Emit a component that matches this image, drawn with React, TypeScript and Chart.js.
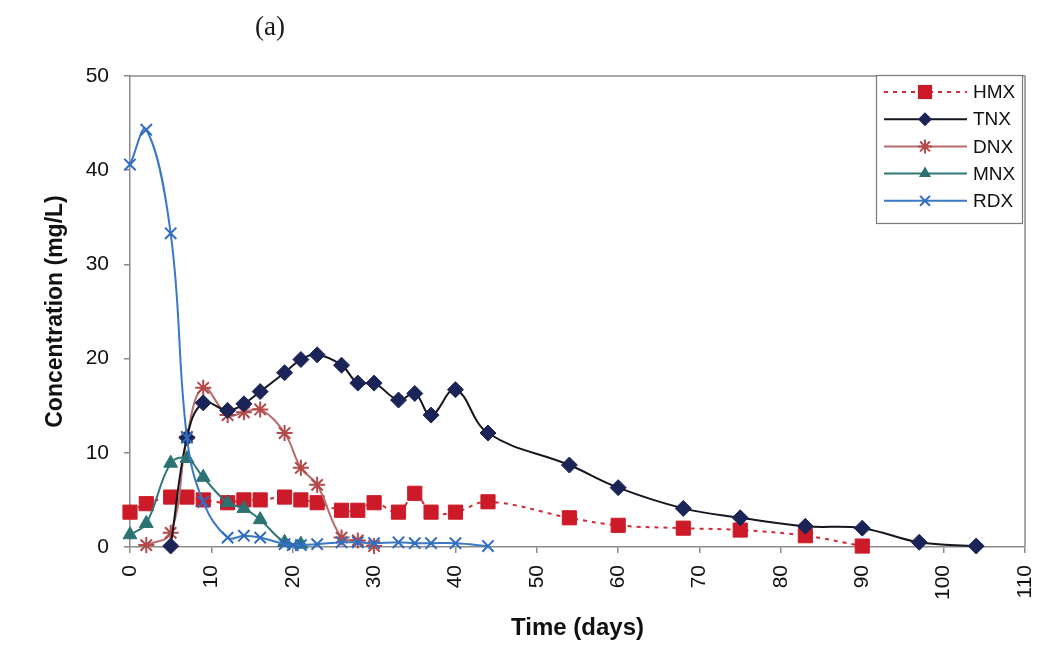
import React, { useEffect, useRef } from 'react';
import { Chart, registerables } from 'chart.js';

Chart.register(...registerables);

const FONT = '"Liberation Sans", Arial, Helvetica, sans-serif';
const SERIF = '"Liberation Serif", "Times New Roman", serif';

// Sampling days and concentrations (mg/L) for each compound
const hmxDays = [0, 2, 5, 7, 9, 12, 14, 16, 19, 21, 23, 26, 28, 30, 33, 35, 37, 40, 44, 54, 60, 68, 75, 83, 90];
const hmxConc = [3.7, 4.6, 5.3, 5.3, 5.0, 4.7, 5.0, 5.0, 5.3, 5.0, 4.7, 3.9, 3.9, 4.7, 3.7, 5.7, 3.7, 3.7, 4.8, 3.1, 2.3, 2.0, 1.8, 1.2, 0.1];

const tnxDays = [5, 7, 9, 12, 14, 16, 19, 21, 23, 26, 28, 30, 33, 35, 37, 40, 44, 54, 60, 68, 75, 83, 90, 97, 104];
const tnxConc = [0.1, 11.6, 15.3, 14.5, 15.2, 16.5, 18.5, 19.9, 20.4, 19.3, 17.4, 17.4, 15.6, 16.3, 14.0, 16.7, 12.1, 8.7, 6.3, 4.1, 3.1, 2.2, 2.0, 0.5, 0.1];

const dnxDays = [2, 5, 7, 9, 12, 14, 16, 19, 21, 23, 26, 28, 30];
const dnxConc = [0.2, 1.5, 11.7, 16.9, 14.0, 14.3, 14.6, 12.1, 8.4, 6.6, 1.0, 0.7, 0.1];

const mnxDays = [0, 2, 5, 7, 9, 12, 14, 16, 19, 21];
const mnxConc = [1.3, 2.5, 8.9, 9.4, 7.4, 4.7, 4.1, 2.9, 0.5, 0.3];

const rdxDays = [0, 2, 5, 7, 9, 12, 14, 16, 19, 20, 21, 23, 26, 28, 30, 33, 35, 37, 40, 44];
const rdxConc = [40.6, 44.3, 33.3, 11.6, 4.8, 1.0, 1.2, 1.0, 0.3, 0.2, 0.2, 0.3, 0.5, 0.5, 0.4, 0.5, 0.4, 0.4, 0.4, 0.1];

const seriesNames = ['HMX', 'TNX', 'DNX', 'MNX', 'RDX'];

const xMin = 0;
const xMax = 110;
const xStep = 10;
const yMin = 0;
const yMax = 50;
const yStep = 10;

type Style = {
  line: string;
  marker: string;
  shape: 'rect' | 'rectRot' | 'star' | 'triangle' | 'crossRot';
  radius: number;
  dash: number[];
};

const styles: Style[] = [
  { line: '#d22a36', marker: '#cc1a28', shape: 'rect', radius: 10, dash: [4, 5] },
  { line: '#15151f', marker: '#1b2456', shape: 'rectRot', radius: 8, dash: [] },
  { line: '#b86c6c', marker: '#b24a4a', shape: 'star', radius: 8, dash: [] },
  { line: '#2f7878', marker: '#2d7272', shape: 'triangle', radius: 8, dash: [] },
  { line: '#3b78c6', marker: '#2f6cc0', shape: 'crossRot', radius: 8, dash: [] },
];

const toPoints = (days: number[], conc: number[]) => days.map((d, i) => ({ x: d, y: conc[i] }));

const seriesData = [
  toPoints(hmxDays, hmxConc),
  toPoints(tnxDays, tnxConc),
  toPoints(dnxDays, dnxConc),
  toPoints(mnxDays, mnxConc),
  toPoints(rdxDays, rdxConc),
];

// stacking: lower value is painted on top
const drawOrder = [4, 2, 3, 1, 0];

function drawMarker(ctx: CanvasRenderingContext2D, s: Style, x: number, y: number, r: number) {
  ctx.save();
  ctx.fillStyle = s.marker;
  ctx.strokeStyle = s.marker;
  ctx.lineWidth = 2;
  ctx.setLineDash([]);
  ctx.beginPath();
  if (s.shape === 'rect') {
    const h = r * Math.SQRT1_2;
    ctx.rect(x - h, y - h, 2 * h, 2 * h);
    ctx.fill();
  } else if (s.shape === 'rectRot') {
    ctx.moveTo(x, y - r);
    ctx.lineTo(x + r, y);
    ctx.lineTo(x, y + r);
    ctx.lineTo(x - r, y);
    ctx.closePath();
    ctx.fill();
  } else if (s.shape === 'triangle') {
    ctx.moveTo(x, y - r);
    ctx.lineTo(x + r * 0.866, y + r * 0.5);
    ctx.lineTo(x - r * 0.866, y + r * 0.5);
    ctx.closePath();
    ctx.fill();
  } else if (s.shape === 'crossRot') {
    const d = r * Math.SQRT1_2;
    ctx.moveTo(x - d, y - d);
    ctx.lineTo(x + d, y + d);
    ctx.moveTo(x - d, y + d);
    ctx.lineTo(x + d, y - d);
    ctx.stroke();
  } else {
    const d = r * Math.SQRT1_2;
    ctx.moveTo(x - d, y - d);
    ctx.lineTo(x + d, y + d);
    ctx.moveTo(x - d, y + d);
    ctx.lineTo(x + d, y - d);
    ctx.moveTo(x, y - r);
    ctx.lineTo(x, y + r);
    ctx.moveTo(x - r, y);
    ctx.lineTo(x + r, y);
    ctx.stroke();
  }
  ctx.restore();
}

// Top and right edges of the plot frame
const framePlugin = {
  id: 'plotFrame',
  beforeDatasetsDraw(chart: any) {
    const { ctx, chartArea } = chart;
    ctx.save();
    ctx.strokeStyle = '#8a8a8a';
    ctx.lineWidth = 1.5;
    ctx.beginPath();
    ctx.moveTo(chartArea.left, chartArea.top);
    ctx.lineTo(chartArea.right, chartArea.top);
    ctx.lineTo(chartArea.right, chartArea.bottom);
    ctx.stroke();
    ctx.restore();
  },
};

// Panel letter above the plot
const panelLabelPlugin = {
  id: 'panelLabel',
  afterDraw(chart: any) {
    const { ctx } = chart;
    ctx.save();
    ctx.fillStyle = '#1a1a1a';
    ctx.font = `27px ${SERIF}`;
    ctx.textAlign = 'center';
    ctx.textBaseline = 'middle';
    ctx.fillText('(a)', 270, 28);
    ctx.restore();
  },
};

// Boxed legend in the upper right corner, line + marker per series
const boxLegendPlugin = {
  id: 'boxLegend',
  afterDatasetsDraw(chart: any) {
    const { ctx, chartArea } = chart;
    const bw = 146;
    const bh = 148;
    const bx = chartArea.right - 149;
    const by = chartArea.top - 1;
    ctx.save();
    ctx.fillStyle = '#ffffff';
    ctx.fillRect(bx, by, bw, bh);
    ctx.strokeStyle = '#7a7a7a';
    ctx.lineWidth = 1.2;
    ctx.strokeRect(bx + 0.5, by + 0.5, bw, bh);
    seriesNames.forEach((name, i) => {
      const s = styles[i];
      const y = by + 17 + i * 27.2;
      ctx.strokeStyle = s.line;
      ctx.lineWidth = 2;
      ctx.setLineDash(s.dash);
      ctx.beginPath();
      ctx.moveTo(bx + 8, y);
      ctx.lineTo(bx + 91, y);
      ctx.stroke();
      ctx.setLineDash([]);
      drawMarker(ctx, s, bx + 49, y, s.shape === 'rect' ? 10 : 7);
      ctx.fillStyle = '#111111';
      ctx.font = `19px ${FONT}`;
      ctx.textAlign = 'left';
      ctx.textBaseline = 'middle';
      ctx.fillText(name, bx + 97, y + 1);
    });
    ctx.restore();
  },
};

export default function App() {
  const canvasRef = useRef<HTMLCanvasElement | null>(null);

  useEffect(() => {
    const canvas = canvasRef.current;
    if (!canvas) return;

    const datasets = seriesNames.map((name, i) => {
      const s = styles[i];
      return {
        label: name,
        data: seriesData[i],
        order: drawOrder[i],
        borderColor: s.line,
        borderWidth: 2,
        borderDash: s.dash,
        tension: 0.4,
        fill: false,
        clip: false as any,
        pointStyle: s.shape,
        pointRadius: s.radius,
        pointBackgroundColor: s.marker,
        pointBorderColor: s.marker,
        pointBorderWidth: s.shape === 'star' || s.shape === 'crossRot' ? 2 : 1,
      };
    });

    const chart = new Chart(canvas, {
      type: 'line',
      data: { datasets },
      options: {
        responsive: false,
        animation: false,
        layout: { padding: { left: 0, top: 76, right: 18, bottom: 0 } },
        plugins: {
          legend: { display: false },
          tooltip: { enabled: false },
          title: { display: false },
        },
        scales: {
          x: {
            type: 'linear',
            min: xMin,
            max: xMax,
            ticks: {
              stepSize: xStep,
              maxRotation: 90,
              minRotation: 90,
              padding: 12,
              color: '#111111',
              font: { family: FONT, size: 21 },
            },
            grid: {
              display: true,
              drawOnChartArea: false,
              drawTicks: true,
              tickLength: 6,
              color: '#8a8a8a',
              lineWidth: 1.5,
            },
            border: { display: true, color: '#8a8a8a', width: 1.5 },
            title: {
              display: true,
              text: 'Time (days)',
              color: '#111111',
              font: { family: FONT, size: 24, weight: 'bold' },
              padding: { top: 0, bottom: 6 },
            },
            afterFit: (scale: any) => {
              scale.height = 102;
              scale.paddingLeft = 0;
              scale.paddingRight = 0;
            },
          },
          y: {
            type: 'linear',
            min: yMin,
            max: yMax,
            ticks: {
              stepSize: yStep,
              padding: 15,
              color: '#111111',
              font: { family: FONT, size: 21 },
            },
            grid: {
              display: true,
              drawOnChartArea: false,
              drawTicks: true,
              tickLength: 6,
              color: '#8a8a8a',
              lineWidth: 1.5,
            },
            border: { display: true, color: '#8a8a8a', width: 1.5 },
            title: {
              display: true,
              text: 'Concentration (mg/L)',
              color: '#111111',
              font: { family: FONT, size: 23, weight: 'bold' },
              padding: { top: 42, bottom: 0 },
            },
            afterFit: (scale: any) => {
              scale.width = 130;
              scale.paddingTop = 0;
              scale.paddingBottom = 0;
            },
          },
        },
      } as any,
      plugins: [framePlugin, boxLegendPlugin, panelLabelPlugin],
    });

    return () => chart.destroy();
  }, []);

  return (
    <div style={{ position: 'fixed', left: 0, top: 0, width: 1043, height: 649, background: '#ffffff' }}>
      <canvas ref={canvasRef} width={1043} height={649} style={{ display: 'block' }} />
    </div>
  );
}
